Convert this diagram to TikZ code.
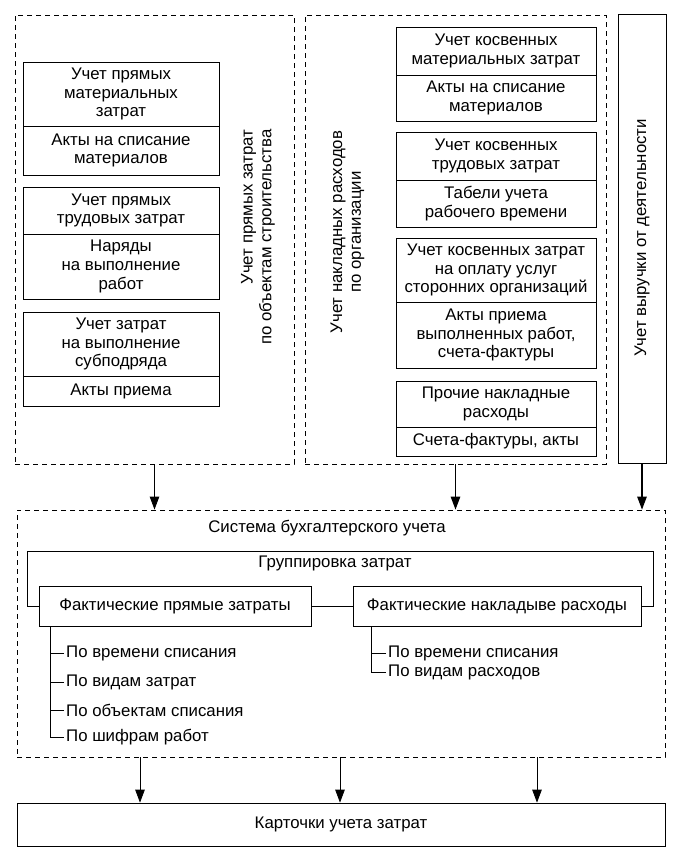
\documentclass[tikz,border=0pt]{standalone}
\usepackage{fontspec}
\setmainfont{Liberation Sans}
\usetikzlibrary{arrows.meta}

\begin{document}
\begin{tikzpicture}[x=1pt,y=-1pt,
  every node/.style={font=\fontsize{16.8}{18.6}\selectfont},
  cell/.style={draw,line width=0.9pt,align=center,inner sep=0pt},
  frame/.style={draw,dash pattern=on 5pt off 4pt,line width=0.8pt,inner sep=0pt},
  arr/.style={-{Triangle[length=13pt,width=9.5pt]},line width=0.8pt},
  item/.style={anchor=west,inner sep=2pt}]
  \useasboundingbox[fill=white] (0,0) rectangle (687,865);
  \node[frame,minimum width=279,minimum height=449] (direct) at (154.5,239.5) {};
  \node[frame,minimum width=301,minimum height=449] (overhead) at (455.5,239.5) {};
  \node[cell,minimum width=48,minimum height=449] (revenue) at (642,238.5) {};
  \node[rotate=90,align=right] (directlbl) at (258,237) {Учет прямых затрат\\по объектам строительства};
  \node[rotate=90,align=center] (overheadlbl) at (347.5,232) {Учет накладных расходов\\по организации};
  \node[rotate=90] (revenuelbl) at (642,238) {Учет выручки от деятельности};
  \node[cell,minimum width=196,minimum height=64] (dm1) at (121,94) {Учет прямых\\материальных\\затрат};
  \node[cell,minimum width=196,minimum height=49] (dm2) at (121,150.5) {Акты на списание\\материалов};
  \node[cell,minimum width=196,minimum height=47] (dt1) at (121,210.5) {Учет прямых\\трудовых затрат};
  \node[cell,minimum width=196,minimum height=65] (dt2) at (121,266.5) {Наряды\\на выполнение\\работ};
  \node[cell,minimum width=196,minimum height=64] (ds1) at (121,344) {Учет затрат\\на выполнение\\субподряда};
  \node[cell,minimum width=196,minimum height=30] (ds2) at (121,391) {Акты приема};
  \node[cell,minimum width=200,minimum height=48] (om1) at (496,51) {Учет косвенных\\материальных затрат};
  \node[cell,minimum width=200,minimum height=46] (om2) at (496,98) {Акты на списание\\материалов};
  \node[cell,minimum width=200,minimum height=48] (ot1) at (496,156) {Учет косвенных\\трудовых затрат};
  \node[cell,minimum width=200,minimum height=47] (ot2) at (496,203.5) {Табели учета\\рабочего времени};
  \node[cell,minimum width=200,minimum height=64] (oc1) at (496,270) {Учет косвенных затрат\\на оплату услуг\\сторонних организаций};
  \node[cell,minimum width=200,minimum height=66] (oc2) at (496,335) {Акты приема\\выполненных работ,\\счета-фактуры};
  \node[cell,minimum width=200,minimum height=46] (or1) at (496,404) {Прочие накладные\\расходы};
  \node[cell,minimum width=200,minimum height=29] (or2) at (496,441.5) {Счета-фактуры, акты};
  \node[frame,minimum width=648,minimum height=247] (system) at (341,633.5) {};
  \node (systitle) at (327,528) {Система бухгалтерского учета};
  \node (grtitle) at (335,563) {Группировка затрат};
  \node[cell,minimum width=272,minimum height=40] (fpz) at (175,606) {Фактические прямые затраты};
  \node[cell,minimum width=288,minimum height=40] (fnr) at (497,606) {Фактические накладыве расходы};
  \coordinate (gtl) at (27,551);
  \coordinate (gtr) at (653,551);
  \draw[line width=0.9pt] (fpz.west) -| (gtl) -- (gtr) |- (fnr.east);
  \draw[line width=0.9pt] (fpz) -- (fnr);
  \node[item] (pi1) at (64,653) {По времени списания};
  \node[item] (pi2) at (64,682) {По видам затрат};
  \node[item] (pi3) at (64,710) {По объектам списания};
  \node[item] (pi4) at (64,737) {По шифрам работ};
  \draw[line width=0.9pt] ([xshift=12]fpz.south west) |- (pi4.west);
  \foreach \n in {pi1,pi2,pi3} \draw[line width=0.9pt] (\n.west) -- ++(-13,0);
  \node[item] (ni1) at (386,653) {По времени списания};
  \node[item] (ni2) at (386,672) {По видам расходов};
  \draw[line width=0.9pt] ([xshift=19]fnr.south west) |- (ni2.west);
  \draw[line width=0.9pt] (ni1.west) -- ++(-14,0);
  \node[cell,minimum width=648,minimum height=43,line width=0.7pt] (cards) at (341,824.5) {Карточки учета затрат};
  \draw[arr] (direct.south) -- (direct.south |- system.north);
  \draw[arr,line width=1.2pt] (overhead.south) -- (overhead.south |- system.north);
  \draw[arr,line width=1.2pt] (revenue.south) -- (revenue.south |- system.north);
  \foreach \dx in {-201,-1,196} \draw[arr] ([xshift=\dx]system.south) -- ([xshift=\dx]cards.north);
\end{tikzpicture}
\end{document}
